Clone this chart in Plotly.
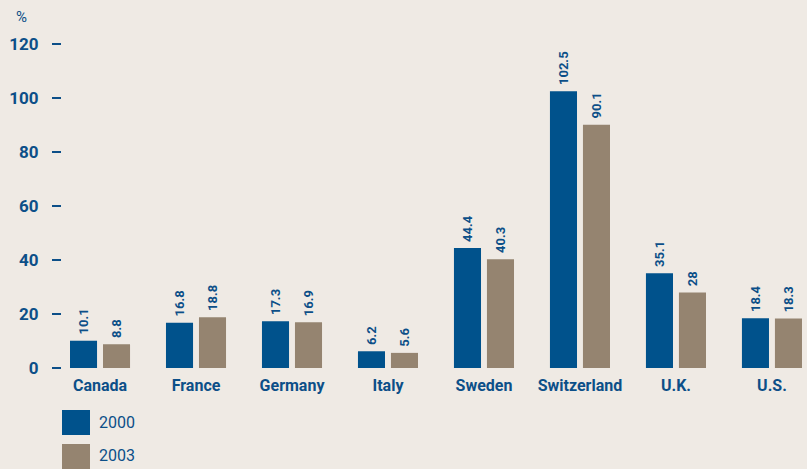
import plotly.graph_objects as go

countries = ["Canada", "France", "Germany", "Italy", "Sweden", "Switzerland", "U.K.", "U.S."]
vals_2000 = [10.1, 16.8, 17.3, 6.2, 44.4, 102.5, 35.1, 18.4]
vals_2003 = [8.8, 18.8, 16.9, 5.6, 40.3, 90.1, 28, 18.3]
labels_2000 = ["10.1", "16.8", "17.3", "6.2", "44.4", "102.5", "35.1", "18.4"]
labels_2003 = ["8.8", "18.8", "16.9", "5.6", "40.3", "90.1", "28", "18.3"]
y_ticks = [0, 20, 40, 60, 80, 100, 120]
series_names = ["2000", "2003"]

BLUE = "#00528C"
TAN = "#958470"
BG = "#EFEAE4"
TXT = "#0C4F88"
FONT = "Roboto, Liberation Sans Narrow, sans-serif"

W, H = 807, 469
L, R, T, B = 62, 0, 44, 101

fig = go.Figure()
for name, vals, labs, col in [(series_names[0], vals_2000, labels_2000, BLUE),
                              (series_names[1], vals_2003, labels_2003, TAN)]:
    fig.add_trace(go.Bar(
        x=countries, y=vals, name=name, marker=dict(color=col, line=dict(width=0)),
        text=["\u00a0" + s for s in labs], textposition="outside", textangle=-90,
        constraintext="none",
        textfont=dict(family=FONT, size=13, color=TXT, weight="bold"),
        cliponaxis=False, showlegend=False, hoverinfo="skip",
    ))

pw, ph = W - L - R, H - T - B
def px(x): return (x - L) / pw
def py(y): return (H - B - y) / ph

fig.update_layout(
    width=W, height=H,
    margin=dict(l=L, r=R, t=T, b=B, pad=0),
    paper_bgcolor=BG, plot_bgcolor=BG,
    barmode="group", bargap=0.3125, bargroupgap=0.18,
    font=dict(family=FONT, color=TXT),
    xaxis=dict(range=[-0.396, 7.365], showgrid=False, showline=False, zeroline=False,
               ticks="", ticklabelstandoff=6,
               tickfont=dict(family=FONT, size=16, color=TXT, weight="bold")),
    yaxis=dict(range=[0, 120], tickvals=y_ticks, showgrid=False, showline=False, zeroline=False,
               ticks="outside", ticklen=9, tickwidth=2, tickcolor=TXT,
               ticklabelstandoff=10,
               tickfont=dict(family=FONT, size=17, color=TXT, weight="bold")),
    annotations=[
        dict(text="%", xref="paper", yref="paper", x=px(21), y=py(17),
             xanchor="center", yanchor="middle", showarrow=False,
             font=dict(family=FONT, size=15, color=TXT)),
    ],
)

# legend drawn as swatches + labels (pixel positions converted to paper coords)
for i, (name, col) in enumerate(zip(series_names, [BLUE, TAN])):
    y0 = 410 + i * 34
    fig.add_shape(type="rect", xref="paper", yref="paper",
                  x0=px(62), x1=px(90), y0=py(y0 + 25), y1=py(y0),
                  fillcolor=col, line=dict(width=0))
    fig.add_annotation(text=name, xref="paper", yref="paper",
                       x=px(97), y=py(y0 + 12), xanchor="left", yanchor="middle",
                       showarrow=False, font=dict(family=FONT, size=16, color=TXT))

fig.write_html("out.html", config={"displayModeBar": False},
               post_script="document.body.style.margin='0';document.body.style.background='%s';" % BG)
